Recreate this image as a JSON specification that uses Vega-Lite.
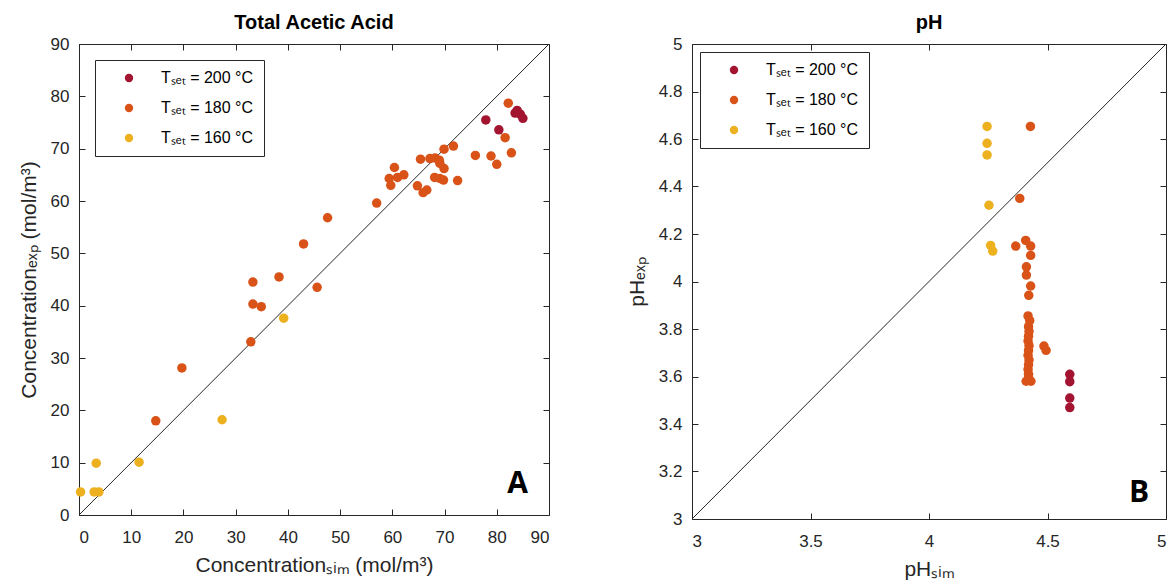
{
  "$schema": "https://vega.github.io/schema/vega-lite/v6.json",
  "background": "white",
  "padding": {"left": 17, "top": 12, "right": 0, "bottom": 0},
  "spacing": 75,
  "config": {
    "font": "Liberation Sans",
    "view": {"stroke": "#262626", "strokeWidth": 1},
    "axis": {
      "grid": false,
      "domain": false,
      "tickColor": "#262626",
      "tickSize": -6,
      "labelColor": "#262626",
      "titleColor": "#262626",
      "labelFontSize": 17,
      "titleFontSize": 21,
      "titleFontWeight": "normal",
      "labelPadding": 16
    },
    "axisX": {"labelPadding": 20},
    "title": {"fontSize": 20, "fontWeight": "bold", "color": "black", "offset": 2, "font": "Liberation Sans"},
    "legend": {
      "orient": "top-left",
      "offset": 16,
      "strokeColor": "#262626",
      "fillColor": "white",
      "padding": 10,
      "labelFontSize": 16,
      "labelColor": "black",
      "symbolType": "circle",
      "symbolSize": 70,
      "symbolStrokeWidth": 0,
      "rowPadding": 14,
      "labelOffset": 24,
      "symbolOffset": 16,
      "title": null
    }
  },
  "datasets": {
    "acid": [
      {"T": "Tₛₑₜ = 200 °C", "sim": 77.9, "exp": 75.5},
      {"T": "Tₛₑₜ = 200 °C", "sim": 80.4, "exp": 73.6},
      {"T": "Tₛₑₜ = 200 °C", "sim": 83.5, "exp": 76.8},
      {"T": "Tₛₑₜ = 200 °C", "sim": 83.9, "exp": 77.3},
      {"T": "Tₛₑₜ = 200 °C", "sim": 84.5, "exp": 76.6},
      {"T": "Tₛₑₜ = 200 °C", "sim": 85.0, "exp": 75.8},
      {"T": "Tₛₑₜ = 180 °C", "sim": 19.7, "exp": 28.1},
      {"T": "Tₛₑₜ = 180 °C", "sim": 14.7, "exp": 18.0},
      {"T": "Tₛₑₜ = 180 °C", "sim": 32.9, "exp": 33.1},
      {"T": "Tₛₑₜ = 180 °C", "sim": 33.3, "exp": 40.3},
      {"T": "Tₛₑₜ = 180 °C", "sim": 34.9, "exp": 39.8},
      {"T": "Tₛₑₜ = 180 °C", "sim": 33.3, "exp": 44.5},
      {"T": "Tₛₑₜ = 180 °C", "sim": 38.3, "exp": 45.5},
      {"T": "Tₛₑₜ = 180 °C", "sim": 43.0, "exp": 51.8},
      {"T": "Tₛₑₜ = 180 °C", "sim": 45.6, "exp": 43.5},
      {"T": "Tₛₑₜ = 180 °C", "sim": 47.6, "exp": 56.8},
      {"T": "Tₛₑₜ = 180 °C", "sim": 57.0, "exp": 59.6},
      {"T": "Tₛₑₜ = 180 °C", "sim": 59.7, "exp": 63.0},
      {"T": "Tₛₑₜ = 180 °C", "sim": 59.4, "exp": 64.3},
      {"T": "Tₛₑₜ = 180 °C", "sim": 60.4, "exp": 66.4},
      {"T": "Tₛₑₜ = 180 °C", "sim": 61.0, "exp": 64.5},
      {"T": "Tₛₑₜ = 180 °C", "sim": 62.2, "exp": 65.0},
      {"T": "Tₛₑₜ = 180 °C", "sim": 64.8, "exp": 62.9},
      {"T": "Tₛₑₜ = 180 °C", "sim": 65.9, "exp": 61.6},
      {"T": "Tₛₑₜ = 180 °C", "sim": 66.6, "exp": 62.1},
      {"T": "Tₛₑₜ = 180 °C", "sim": 65.4, "exp": 68.0},
      {"T": "Tₛₑₜ = 180 °C", "sim": 67.2, "exp": 68.1},
      {"T": "Tₛₑₜ = 180 °C", "sim": 68.2, "exp": 68.2},
      {"T": "Tₛₑₜ = 180 °C", "sim": 69.0, "exp": 67.8},
      {"T": "Tₛₑₜ = 180 °C", "sim": 69.9, "exp": 69.9},
      {"T": "Tₛₑₜ = 180 °C", "sim": 71.7, "exp": 70.5},
      {"T": "Tₛₑₜ = 180 °C", "sim": 69.1, "exp": 67.2},
      {"T": "Tₛₑₜ = 180 °C", "sim": 69.9, "exp": 66.2},
      {"T": "Tₛₑₜ = 180 °C", "sim": 68.1, "exp": 64.5},
      {"T": "Tₛₑₜ = 180 °C", "sim": 69.1, "exp": 64.3},
      {"T": "Tₛₑₜ = 180 °C", "sim": 69.8, "exp": 64.0},
      {"T": "Tₛₑₜ = 180 °C", "sim": 72.5, "exp": 63.9},
      {"T": "Tₛₑₜ = 180 °C", "sim": 75.9, "exp": 68.7},
      {"T": "Tₛₑₜ = 180 °C", "sim": 78.9, "exp": 68.6},
      {"T": "Tₛₑₜ = 180 °C", "sim": 80.0, "exp": 67.0},
      {"T": "Tₛₑₜ = 180 °C", "sim": 81.6, "exp": 72.1},
      {"T": "Tₛₑₜ = 180 °C", "sim": 82.8, "exp": 69.2},
      {"T": "Tₛₑₜ = 180 °C", "sim": 82.2, "exp": 78.7},
      {"T": "Tₛₑₜ = 160 °C", "sim": 0.3, "exp": 4.4},
      {"T": "Tₛₑₜ = 160 °C", "sim": 2.9, "exp": 4.4},
      {"T": "Tₛₑₜ = 160 °C", "sim": 3.8, "exp": 4.4},
      {"T": "Tₛₑₜ = 160 °C", "sim": 3.3, "exp": 9.9},
      {"T": "Tₛₑₜ = 160 °C", "sim": 11.5, "exp": 10.1},
      {"T": "Tₛₑₜ = 160 °C", "sim": 27.4, "exp": 18.2},
      {"T": "Tₛₑₜ = 160 °C", "sim": 39.2, "exp": 37.6}
    ],
    "ph": [
      {"T": "Tₛₑₜ = 200 °C", "sim": 4.594, "exp": 3.609},
      {"T": "Tₛₑₜ = 200 °C", "sim": 4.594, "exp": 3.578},
      {"T": "Tₛₑₜ = 200 °C", "sim": 4.594, "exp": 3.509},
      {"T": "Tₛₑₜ = 200 °C", "sim": 4.594, "exp": 3.469},
      {"T": "Tₛₑₜ = 180 °C", "sim": 4.428, "exp": 4.653},
      {"T": "Tₛₑₜ = 180 °C", "sim": 4.383, "exp": 4.35},
      {"T": "Tₛₑₜ = 180 °C", "sim": 4.366, "exp": 4.149},
      {"T": "Tₛₑₜ = 180 °C", "sim": 4.408, "exp": 4.173},
      {"T": "Tₛₑₜ = 180 °C", "sim": 4.429, "exp": 4.149},
      {"T": "Tₛₑₜ = 180 °C", "sim": 4.429, "exp": 4.11},
      {"T": "Tₛₑₜ = 180 °C", "sim": 4.411, "exp": 4.062},
      {"T": "Tₛₑₜ = 180 °C", "sim": 4.411, "exp": 4.027},
      {"T": "Tₛₑₜ = 180 °C", "sim": 4.429, "exp": 3.981},
      {"T": "Tₛₑₜ = 180 °C", "sim": 4.421, "exp": 3.942},
      {"T": "Tₛₑₜ = 180 °C", "sim": 4.418, "exp": 3.855},
      {"T": "Tₛₑₜ = 180 °C", "sim": 4.425, "exp": 3.835},
      {"T": "Tₛₑₜ = 180 °C", "sim": 4.42, "exp": 3.81},
      {"T": "Tₛₑₜ = 180 °C", "sim": 4.422, "exp": 3.79},
      {"T": "Tₛₑₜ = 180 °C", "sim": 4.42, "exp": 3.77},
      {"T": "Tₛₑₜ = 180 °C", "sim": 4.418, "exp": 3.75},
      {"T": "Tₛₑₜ = 180 °C", "sim": 4.422, "exp": 3.73},
      {"T": "Tₛₑₜ = 180 °C", "sim": 4.42, "exp": 3.71},
      {"T": "Tₛₑₜ = 180 °C", "sim": 4.418, "exp": 3.69},
      {"T": "Tₛₑₜ = 180 °C", "sim": 4.422, "exp": 3.67},
      {"T": "Tₛₑₜ = 180 °C", "sim": 4.42, "exp": 3.65},
      {"T": "Tₛₑₜ = 180 °C", "sim": 4.418, "exp": 3.63},
      {"T": "Tₛₑₜ = 180 °C", "sim": 4.42, "exp": 3.61},
      {"T": "Tₛₑₜ = 180 °C", "sim": 4.42, "exp": 3.595},
      {"T": "Tₛₑₜ = 180 °C", "sim": 4.41, "exp": 3.58},
      {"T": "Tₛₑₜ = 180 °C", "sim": 4.43, "exp": 3.58},
      {"T": "Tₛₑₜ = 180 °C", "sim": 4.485, "exp": 3.728},
      {"T": "Tₛₑₜ = 180 °C", "sim": 4.494, "exp": 3.71},
      {"T": "Tₛₑₜ = 160 °C", "sim": 4.245, "exp": 4.653},
      {"T": "Tₛₑₜ = 160 °C", "sim": 4.245, "exp": 4.582},
      {"T": "Tₛₑₜ = 160 °C", "sim": 4.245, "exp": 4.533},
      {"T": "Tₛₑₜ = 160 °C", "sim": 4.253, "exp": 4.321},
      {"T": "Tₛₑₜ = 160 °C", "sim": 4.26, "exp": 4.152},
      {"T": "Tₛₑₜ = 160 °C", "sim": 4.269, "exp": 4.128}
    ]
  },
  "resolve": {"scale": {"color": "independent"}, "legend": {"color": "independent"}},
  "hconcat": [
    {
      "title": {"text": "Total Acetic Acid", "fontSize": 20, "fontWeight": "bold", "font": "Liberation Sans", "offset": 2},
      "width": 470,
      "height": 471,
      "resolve": {"axis": {"x": "independent", "y": "independent"}},
      "layer": [
        {
          "data": {"values": [{"a": 0, "b": 0, "a2": 90, "b2": 90}]},
          "mark": {"type": "rule", "color": "#262626", "strokeWidth": 1},
          "encoding": {
            "x": {"field": "a", "type": "quantitative", "scale": {"domain": [0, 90], "nice": false}, "axis": {"orient": "top", "labels": false, "title": null, "values": [0,10,20,30,40,50,60,70,80,90]}},
            "y": {"field": "b", "type": "quantitative", "scale": {"domain": [0, 90], "nice": false}, "axis": {"orient": "right", "labels": false, "title": null, "values": [0,10,20,30,40,50,60,70,80,90]}},
            "x2": {"field": "a2"},
            "y2": {"field": "b2"}
          }
        },
        {
          "data": {"name": "acid"},
          "mark": {"type": "point", "filled": true, "opacity": 1, "size": 90, "shape": "circle"},
          "encoding": {
            "x": {"field": "sim", "type": "quantitative", "scale": {"domain": [0, 90], "nice": false}, "axis": {"values": [0,10,20,30,40,50,60,70,80,90], "title": "Concentrationₛᵢₘ (mol/m³)", "titlePadding": 9}},
            "y": {"field": "exp", "type": "quantitative", "scale": {"domain": [0, 90], "nice": false}, "axis": {"values": [0,10,20,30,40,50,60,70,80,90], "title": "Concentrationₑₓₚ (mol/m³)", "titlePadding": 11}},
            "color": {"field": "T", "type": "nominal", "sort": null, "scale": {"domain": ["Tₛₑₜ = 200 °C", "Tₛₑₜ = 180 °C", "Tₛₑₜ = 160 °C"], "range": ["#A2142F", "#D95319", "#EDB120"]}, "legend": {"offset": 16}}
          }
        },
        {
          "data": {"values": [{"t": "A", "a": 84, "b": 5.9}]},
          "mark": {"type": "text", "font": "Open Sans", "fontWeight": "bold", "fontSize": 30, "color": "black", "align": "center", "baseline": "middle"},
          "encoding": {
            "x": {"field": "a", "type": "quantitative", "axis": null},
            "y": {"field": "b", "type": "quantitative", "axis": null},
            "text": {"field": "t"}
          }
        }
      ]
    },
    {
      "title": {"text": "pH", "fontSize": 20, "fontWeight": "bold", "font": "Liberation Sans", "offset": 2},
      "width": 474,
      "height": 475,
      "resolve": {"axis": {"x": "independent", "y": "independent"}},
      "layer": [
        {
          "data": {"values": [{"a": 3, "b": 3, "a2": 5, "b2": 5}]},
          "mark": {"type": "rule", "color": "#262626", "strokeWidth": 1},
          "encoding": {
            "x": {"field": "a", "type": "quantitative", "scale": {"domain": [3, 5], "nice": false, "zero": false}, "axis": {"orient": "top", "labels": false, "title": null, "values": [3, 3.5, 4, 4.5, 5]}},
            "y": {"field": "b", "type": "quantitative", "scale": {"domain": [3, 5], "nice": false, "zero": false}, "axis": {"orient": "right", "labels": false, "title": null, "values": [3, 3.2, 3.4, 3.6, 3.8, 4, 4.2, 4.4, 4.6, 4.8, 5]}},
            "x2": {"field": "a2"},
            "y2": {"field": "b2"}
          }
        },
        {
          "data": {"name": "ph"},
          "mark": {"type": "point", "filled": true, "opacity": 1, "size": 90, "shape": "circle"},
          "encoding": {
            "x": {"field": "sim", "type": "quantitative", "scale": {"domain": [3, 5], "nice": false, "zero": false}, "axis": {"values": [3, 3.5, 4, 4.5, 5], "format": "~g", "title": "pHₛᵢₘ", "titlePadding": 9}},
            "y": {"field": "exp", "type": "quantitative", "scale": {"domain": [3, 5], "nice": false, "zero": false}, "axis": {"values": [3, 3.2, 3.4, 3.6, 3.8, 4, 4.2, 4.4, 4.6, 4.8, 5], "format": "~g", "title": "pHₑₓₚ", "titlePadding": 11}},
            "color": {"field": "T", "type": "nominal", "sort": null, "scale": {"domain": ["Tₛₑₜ = 200 °C", "Tₛₑₜ = 180 °C", "Tₛₑₜ = 160 °C"], "range": ["#A2142F", "#D95319", "#EDB120"]}, "legend": {"offset": 8}}
          }
        },
        {
          "data": {"values": [{"t": "B", "a": 4.886, "b": 3.11}]},
          "mark": {"type": "text", "font": "Open Sans", "fontWeight": "bold", "fontSize": 30, "color": "black", "align": "center", "baseline": "middle"},
          "encoding": {
            "x": {"field": "a", "type": "quantitative", "axis": null},
            "y": {"field": "b", "type": "quantitative", "axis": null},
            "text": {"field": "t"}
          }
        }
      ]
    }
  ]
}
